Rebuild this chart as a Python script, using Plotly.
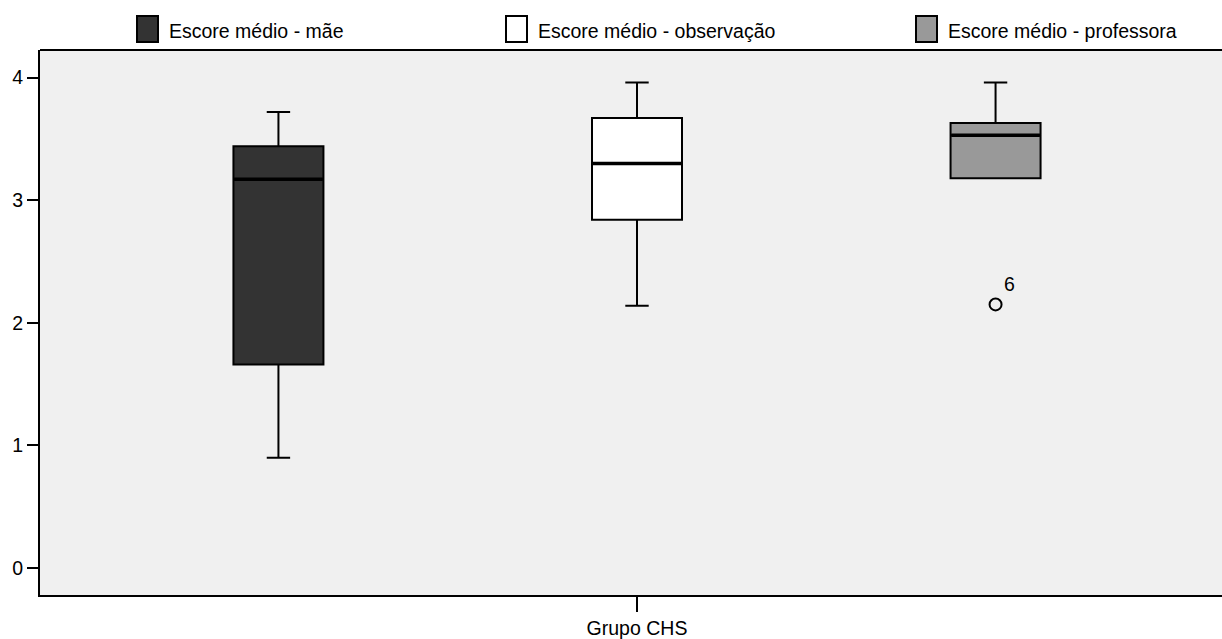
import plotly.graph_objects as go

# ---- data ----
series = ["Escore médio - mãe", "Escore médio - observação", "Escore médio - professora"]
lower_whisker = [0.90, 2.14, 3.18]
q1 = [1.66, 2.84, 3.18]
median = [3.17, 3.30, 3.53]
q3 = [3.44, 3.67, 3.63]
upper_whisker = [3.72, 3.96, 3.96]
fills = ["#333333", "#ffffff", "#999999"]

outlier_series = ["Escore médio - professora"]
outlier_values = [2.15]
outlier_labels = ["6"]

group_label = "Grupo CHS"
y_ticks = [0, 1, 2, 3, 4]

# ---- layout constants ----
# the reference frame runs past the right edge of the 1222 px window
W, H = 1234, 639
ML, MR, MT, MB = 40, 0, 50, 44
FONT = "Liberation Sans, Arial, sans-serif"
FS = 19.5
BOXW = 0.251

fig = go.Figure()

for name, lo, a, m, b, hi, col in zip(series, lower_whisker, q1, median, q3, upper_whisker, fills):
    fig.add_trace(go.Box(
        x=[name], q1=[a], median=[m], q3=[b], lowerfence=[lo], upperfence=[hi],
        name=name, fillcolor=col, line=dict(color="#000000", width=2),
        width=BOXW, whiskerwidth=0.26, boxpoints=False, showlegend=False,
        hoverinfo="skip",
    ))
    # thick median line
    fig.add_trace(go.Box(
        x=[name], q1=[m], median=[m], q3=[m], lowerfence=[m], upperfence=[m],
        fillcolor="rgba(0,0,0,0)", line=dict(color="#000000", width=3.5),
        width=BOXW * 0.985, whiskerwidth=0, boxpoints=False, showlegend=False,
        hoverinfo="skip",
    ))

fig.add_trace(go.Scatter(
    x=outlier_series, y=outlier_values, mode="markers+text",
    text=outlier_labels, textposition="top right",
    textfont=dict(family=FONT, size=FS, color="#000000"),
    marker=dict(symbol="circle-open", size=12, color="#000000", line=dict(width=2, color="#000000")),
    showlegend=False, hoverinfo="skip", cliponaxis=False,
))

plot_w = W - ML - MR
plot_h = H - MT - MB


def px_x(px):
    return (px - ML) / plot_w


def px_y(py):
    return 1 + (MT - py) / plot_h


# manual legend (SPSS style squares)
legend_sq_x = [137, 506, 916]
shapes = []
annotations = []
for name, col, sx in zip(series, fills, legend_sq_x):
    shapes.append(dict(type="rect", xref="paper", yref="paper",
                       x0=px_x(sx), x1=px_x(sx + 21), y0=px_y(42), y1=px_y(16),
                       fillcolor=col, line=dict(color="#000000", width=2)))
    annotations.append(dict(xref="paper", yref="paper", x=px_x(sx + 30), y=px_y(31),
                            xanchor="left", yanchor="middle", text=name, showarrow=False,
                            font=dict(family=FONT, size=FS, color="#000000")))
# top frame line of the plot area
shapes.append(dict(type="line", xref="paper", yref="paper", x0=0, x1=1, y0=1, y1=1,
                   line=dict(color="#000000", width=2)))

fig.update_layout(
    width=W, height=H,
    margin=dict(l=ML, r=MR, t=MT, b=MB, pad=0),
    paper_bgcolor="#ffffff", plot_bgcolor="#f0f0f0",
    font=dict(family=FONT, size=FS, color="#000000"),
    boxmode="overlay",
    shapes=shapes, annotations=annotations,
    xaxis=dict(
        type="category", categoryorder="array", categoryarray=series,
        range=[-0.665, 2.665], showgrid=False, zeroline=False,
        showline=True, linecolor="#000000", linewidth=2, mirror=False,
        tickmode="array", tickvals=[series[1]], ticktext=[group_label],
        ticks="outside", ticklen=15, tickwidth=2, tickcolor="#000000",
        tickfont=dict(family=FONT, size=FS, color="#000000"),
    ),
    yaxis=dict(
        range=[-0.22, 4.225], showgrid=False, zeroline=False,
        showline=True, linecolor="#000000", linewidth=2,
        tickmode="array", tickvals=y_ticks, ticktext=[str(t) for t in y_ticks],
        ticks="outside", ticklen=11, tickwidth=2, tickcolor="#000000",
        tickfont=dict(family=FONT, size=FS, color="#000000"),
    ),
)

fig.write_html(
    "out.html",
    config={"displayModeBar": False},
    post_script=(
        "document.documentElement.style.overflow='hidden';"
        "document.body.style.margin='0px';document.body.style.overflow='hidden';"
    ),
)
